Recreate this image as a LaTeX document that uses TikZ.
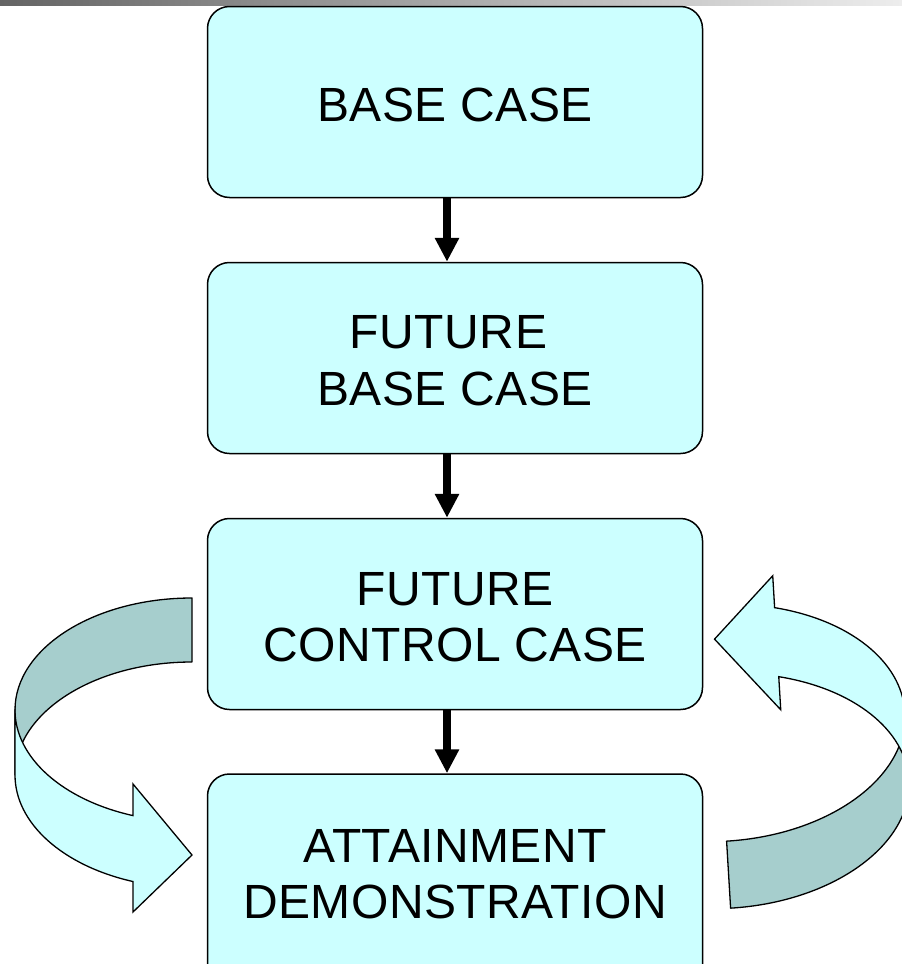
\documentclass[tikz,border=0pt]{standalone}
\usepackage{fontspec}
\setmainfont{Liberation Sans}[LetterSpace=1.0]
\usetikzlibrary{arrows.meta}
\definecolor{boxfill}{HTML}{CCFFFF}
\definecolor{bandlight}{HTML}{CCFFFF}
\definecolor{banddark}{HTML}{A6CECD}
\definecolor{barleft}{HTML}{646464}
\definecolor{barright}{HTML}{EDEDED}
\newcommand{\ribbonarrow}{%
  \path[bandback] (0,112) arc[start angle=90, end angle=180, x radius=177, y radius=112]
     -- (-177,-65) arc[start angle=180, end angle=90, x radius=177, y radius=113] -- cycle;
  \path[bandfront] (-177,0) -- (-177,-65)
     arc[start angle=180, end angle=250.53, x radius=177, y radius=113]
     -- (-59,-202) -- (0,-145) -- (-59,-74) -- (-59,-105.6)
     arc[start angle=250.53, end angle=180, x radius=177, y radius=112] -- cycle;
}
\begin{document}
\begin{tikzpicture}[x=1pt,y=1pt,
  stagebox/.style={draw=black, line width=1.5pt, fill=boxfill, rounded corners=22pt,
    minimum width=495pt, minimum height=191pt, inner sep=0pt},
  stagetext/.style={font=\fontsize{48pt}{56.5pt}\selectfont, align=center, inner sep=0pt},
  flow/.style={line width=7.5pt, -{Triangle[width=23pt,length=24pt]}},
  bandback/.style={fill=banddark, draw=black, line width=1.3pt, line join=round},
  bandfront/.style={fill=bandlight, draw=black, line width=1.3pt, line join=miter}]
\useasboundingbox (0,0) rectangle (902,-964);
\clip (0,0) rectangle (902,-964);
\shade[left color=barleft, right color=barright] (0,0) rectangle (902,-5);
\node[stagebox] (b1) at (455,-102) {};
\node[stagebox] (b2) at (455,-358) {};
\node[stagebox] (b3) at (455,-614) {};
\node[stagebox, minimum height=226pt] (b4) at (455,-887) {};
\node[stagetext] (t1) at (455,-105) {BASE CASE};
\node[stagetext] (t2) at (455,-360.5) {FUTURE\rule{13pt}{0pt}\\BASE CASE};
\node[stagetext] (t3) at (455,-617) {FUTURE\\CONTROL CASE};
\node[stagetext] (t4) at (455,-874) {ATTAINMENT\\DEMONSTRATION};
\draw[flow] ([xshift=-8pt]b1.south) -- ([xshift=-8pt]b2.north);
\draw[flow] ([xshift=-8pt]b2.south) -- ([xshift=-8pt]b3.north);
\draw[flow] ([xshift=-8pt]b3.south) -- ([xshift=-8pt]b4.north);
\begin{scope}[shift={(192,-710)}]
  \ribbonarrow
\end{scope}
\begin{scope}[shift={(723.6,-790.9)}, rotate=183.42, scale=1.0487]
  \ribbonarrow
\end{scope}
\end{tikzpicture}
\end{document}
